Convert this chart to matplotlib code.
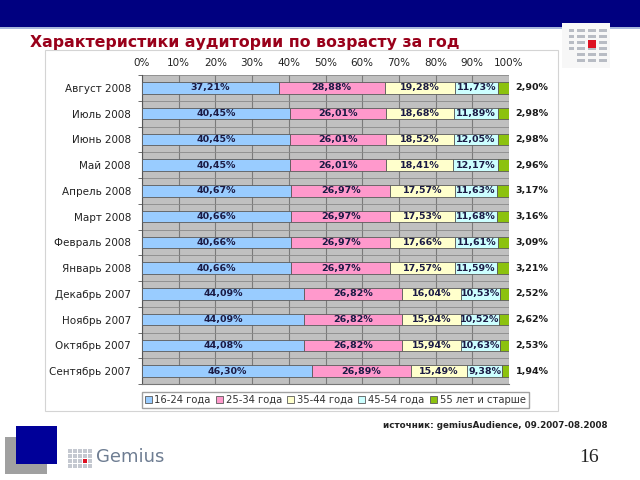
import numpy as np
import matplotlib.pyplot as plt
from matplotlib.patches import Rectangle, Patch

# ==========================================
# Data
# ==========================================
months = ['Август 2008', 'Июль 2008', 'Июнь 2008', 'Май 2008', 'Апрель 2008',
          'Март 2008', 'Февраль 2008', 'Январь 2008', 'Декабрь 2007',
          'Ноябрь 2007', 'Октябрь 2007', 'Сентябрь 2007']

age_16_24 = [37.21, 40.45, 40.45, 40.45, 40.67, 40.66, 40.66, 40.66, 44.09, 44.09, 44.08, 46.30]
age_25_34 = [28.88, 26.01, 26.01, 26.01, 26.97, 26.97, 26.97, 26.97, 26.82, 26.82, 26.82, 26.89]
age_35_44 = [19.28, 18.68, 18.52, 18.41, 17.57, 17.53, 17.66, 17.57, 16.04, 15.94, 15.94, 15.49]
age_45_54 = [11.73, 11.89, 12.05, 12.17, 11.63, 11.68, 11.61, 11.59, 10.53, 10.52, 10.63, 9.38]
age_55_up = [2.90, 2.98, 2.98, 2.96, 3.17, 3.16, 3.09, 3.21, 2.52, 2.62, 2.53, 1.94]

series_names = ['16-24 года', '25-34 года', '35-44 года', '45-54 года', '55 лет и старше']
x_ticks = [0, 10, 20, 30, 40, 50, 60, 70, 80, 90, 100]

title = 'Характеристики аудитории по возрасту за год'
source = 'источник: gemiusAudience, 09.2007-08.2008'

colors = ['#99ccff', '#ff99cc', '#ffffcc', '#ccffff', '#8cc20f']
W, H = 640, 480


def fx(x):
    return x / W


def fy(y):
    return 1 - y / H


def fig_rect(fig, x0, y0, x1, y1, **kw):
    # rectangle given in pixel coords (top-left origin)
    fig.patches.append(Rectangle((fx(x0), fy(y1)), (x1 - x0) / W, (y1 - y0) / H,
                                 transform=fig.transFigure, **kw))


fig = plt.figure(figsize=(6.4, 4.8), dpi=100)

# slide decoration
fig_rect(fig, 0, 0, 640, 27, facecolor='#000080', edgecolor='none')
fig_rect(fig, 0, 27, 640, 28.5, facecolor='#a8b8dc', edgecolor='none')

# top right icon
fig_rect(fig, 562, 23, 610, 68, facecolor='#f7f7f7', edgecolor='none', zorder=2)
for ci, cx in enumerate([566, 577, 588, 599]):
    for ry in [29, 35, 41, 47, 53, 59]:
        if ci == 0 and ry > 47:
            continue
        off = 3 if ci == 0 else 0
        w = 5 if ci == 0 else 8
        fig_rect(fig, cx + off, ry, cx + off + w, ry + 3,
                 facecolor='#b8bcc4', edgecolor='none', zorder=3)
fig_rect(fig, 588, 40, 596, 48, facecolor='#dd1122', edgecolor='none', zorder=4)

fig.text(fx(30), fy(42), title, fontsize=11.3, fontweight='bold', color='#99001a',
         ha='left', va='center')

# chart panel
fig_rect(fig, 45, 50, 558, 411, facecolor='white', edgecolor='#d4d4d4', lw=0.8, zorder=-1)

# ==========================================
# Stacked bar chart
# ==========================================
ax = fig.add_axes([fx(142), fy(384), 367 / W, 309 / H])
ax.set_zorder(5)
ax.set_facecolor('#c0c0c0')

y = np.arange(len(months))
series = [age_16_24, age_25_34, age_35_44, age_45_54, age_55_up]
left = np.zeros(len(months))
for i, vals in enumerate(series):
    vals = np.array(vals)
    ax.barh(y, vals, left=left, height=0.45, color=colors[i], edgecolor='#5a5a5a',
            lw=0.6, zorder=3)
    for j, v in enumerate(vals):
        txt = f'{v:.2f}%'.replace('.', ',')
        if i < 4:
            ax.text(left[j] + v / 2, j, txt, ha='center', va='center', fontsize=6.8,
                    fontweight='bold', color='#1a1a44', zorder=4)
        else:
            ax.text(101.8, j, txt, ha='left', va='center', fontsize=6.8,
                    fontweight='bold', color='#1a1a1a', clip_on=False)
    left += vals

ax.set_xlim(0, 100)
ax.set_ylim(len(months) - 0.5, -0.5)
ax.xaxis.tick_top()
ax.set_xticks(x_ticks)
ax.set_xticklabels([f'{t}%' for t in x_ticks], fontsize=7.5, color='#222222')
ax.tick_params(axis='x', length=0, pad=5)
ax.set_yticks(y)
ax.set_yticklabels(months, fontsize=7.5, color='#222222')
ax.set_yticks(np.arange(len(months) + 1) - 0.5, minor=True)
ax.tick_params(axis='y', which='major', length=0, pad=8)
ax.tick_params(axis='y', which='minor', length=3, color='#555555')
ax.grid(axis='x', color='#7a7a7a', lw=0.8, zorder=1)
ax.grid(axis='y', which='minor', color='#8a8a8a', lw=0.6, zorder=1)
for side in ['top', 'right']:
    ax.spines[side].set_visible(False)
ax.spines['left'].set_color('#555555')
ax.spines['bottom'].set_color('#777777')

handles = [Patch(facecolor=c, edgecolor='#5a5a5a', lw=0.6) for c in colors]
fig.legend(handles, series_names, loc='center', bbox_to_anchor=(fx(335), fy(400)),
           ncol=5, fontsize=7.2, frameon=True, fancybox=False, edgecolor='#888888',
           handlelength=0.7, handleheight=0.7, handletextpad=0.3, columnspacing=0.5,
           borderpad=0.3, labelcolor='#333333')

# footer
fig.text(fx(383), fy(426), source, fontsize=6.3, fontweight='bold', color='#222222',
         ha='left', va='center')
fig_rect(fig, 5, 437, 47, 474, facecolor='#a0a0a0', edgecolor='none')
fig_rect(fig, 16, 426, 57, 464, facecolor='#000099', edgecolor='none')
for cx in [68, 73, 78, 83, 88]:
    for ry in [449, 454, 459, 464]:
        fig_rect(fig, cx, ry, cx + 3.5, ry + 3.5, facecolor='#c4c8d0', edgecolor='none')
fig_rect(fig, 83, 459, 86.5, 462.5, facecolor='#dd1122', edgecolor='none')
fig.text(fx(96), fy(457), 'Gemius', fontsize=13, color='#6e7d92', ha='left', va='center')
fig.text(fx(589), fy(457), '16', fontsize=14, family='Liberation Serif', color='#222222',
         ha='center', va='center')

fig.savefig('out.png', dpi=100)
